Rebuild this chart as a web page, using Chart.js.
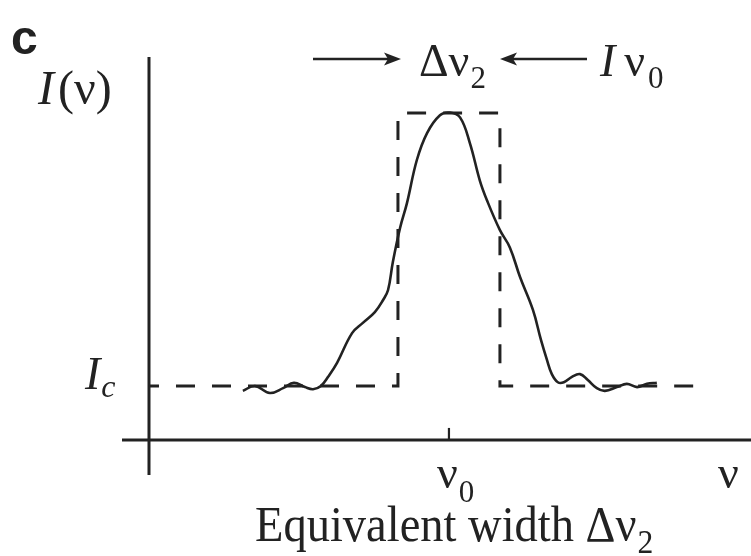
<!DOCTYPE html>
<html>
<head>
<meta charset="utf-8">
<script src="https://cdn.jsdelivr.net/npm/chart.js@4"></script>
<style>
  html, body { margin: 0; padding: 0; background: #fff; }
  #wrap { position: relative; width: 751px; height: 556px; }
</style>
</head>
<body>
<div id="wrap"><canvas id="profile"></canvas></div>
<script>
// Observed line profile I(nu), frequency measured from line centre nu0
const profileNu = [-6.87, -6.47, -5.97, -5.53, -5.17, -4.80, -4.53, -4.27, -4.03, -3.73,
  -3.23, -2.87, -2.47, -2.20, -2.03, -1.87, -1.63, -1.40, -1.07, -0.73,
  -0.30, 0.03, 0.37, 0.70, 1.03, 1.27, 1.70, 2.03, 2.37, 2.80,
  3.07, 3.27, 3.43, 3.63, 3.83, 4.10, 4.37, 4.63, 4.93, 5.20,
  5.60, 5.93, 6.27, 6.60, 6.93];
const profileI = [0.91, 1.00, 0.87, 0.96, 1.06, 0.98, 0.94, 1.00, 1.17, 1.43,
  1.98, 2.17, 2.37, 2.59, 2.78, 3.30, 3.93, 4.39, 5.19, 5.69,
  6.02, 6.07, 5.98, 5.50, 4.81, 4.44, 3.89, 3.57, 3.02, 2.41,
  1.85, 1.48, 1.22, 1.07, 1.07, 1.17, 1.22, 1.11, 0.96, 0.91,
  0.98, 1.04, 0.98, 1.04, 1.06];

// Equivalent rectangle: continuum Ic = 1, height I(nu0), width delta nu2
const rectNu = [-10, -1.7, -1.7, 1.7, 1.7, 8.2];
const rectI = [1, 1, 6.06, 6.06, 1, 1];

const nuMin = -10.9, nuMax = 10.07;
const iMin = -0.65, iMax = 7.1;
const yAxisNu = -10;
const ink = '#222';
const serif = '"Liberation Serif", "Times New Roman", serif';

const toPoints = (xs, ys) => xs.map((x, i) => ({ x, y: ys[i] }));

// text with an optional subscript; returns the end x
function sub(ctx, text, subText, x, y, size, opts = {}) {
  ctx.font = `${opts.italic ? 'italic ' : ''}${size}px ${serif}`;
  ctx.fillText(text, x, y);
  let end = x + ctx.measureText(text).width;
  if (subText) {
    ctx.font = `${opts.subItalic ? 'italic ' : ''}${Math.round(size * 0.68)}px ${serif}`;
    ctx.fillText(subText, end + (opts.gap || 1), y + (opts.drop || 12));
    end += (opts.gap || 1) + ctx.measureText(subText).width;
  }
  return end;
}

function arrow(ctx, x0, x1, y) {
  const dir = Math.sign(x1 - x0);
  ctx.beginPath();
  ctx.moveTo(x0, y);
  ctx.lineTo(x1 - dir * 10, y);
  ctx.lineWidth = 2.6;
  ctx.stroke();
  ctx.beginPath();
  ctx.moveTo(x1, y);
  ctx.lineTo(x1 - dir * 17, y - 6.5);
  ctx.lineTo(x1 - dir * 13, y);
  ctx.lineTo(x1 - dir * 17, y + 6.5);
  ctx.closePath();
  ctx.fill();
}

// Axes, tick and all labelling drawn from the scales
const diagram = {
  id: 'diagram',
  beforeDatasetsDraw(chart) {
    const { ctx, chartArea: a, scales: { x, y } } = chart;
    const x0 = x.getPixelForValue(yAxisNu);
    const y0 = y.getPixelForValue(0);
    const xc = x.getPixelForValue(0);
    ctx.save();
    ctx.strokeStyle = ink;
    ctx.lineWidth = 3;
    ctx.beginPath();
    ctx.moveTo(x0, a.top); ctx.lineTo(x0, a.bottom);
    ctx.moveTo(a.left, y0); ctx.lineTo(a.right, y0);
    ctx.stroke();
    ctx.lineWidth = 2.2;
    ctx.beginPath();
    ctx.moveTo(xc, y0); ctx.lineTo(xc, y0 - 12);
    ctx.stroke();
    ctx.restore();
  },
  afterDraw(chart) {
    const { ctx, scales: { x, y } } = chart;
    ctx.save();
    ctx.fillStyle = ink;
    ctx.strokeStyle = ink;
    ctx.textBaseline = 'alphabetic';

    ctx.font = 'bold 48px "Liberation Sans", Arial, sans-serif';
    ctx.fillText('c', 11, 54);

    // I(nu) on the vertical axis
    ctx.font = `italic 48px ${serif}`;
    ctx.fillText('I', 38, 104);
    const wI = ctx.measureText('I').width;
    ctx.font = `48px ${serif}`;
    ctx.fillText('(ν)', 38 + wI + 4, 104);

    // width marker row
    arrow(ctx, 313, 401, 59);
    sub(ctx, 'Δν', '2', 419, 76, 46, { drop: 12 });
    arrow(ctx, 587, 500, 59);
    ctx.font = `italic 46px ${serif}`;
    ctx.fillText('I', 600, 76);
    sub(ctx, 'ν', '0', 600 + ctx.measureText('I').width + 9, 76, 46, { drop: 12, gap: 3 });

    // continuum level
    const yc = y.getPixelForValue(1);
    ctx.font = `italic 46px ${serif}`;
    ctx.fillText('I', 85, yc + 3);
    const wIc = ctx.measureText('I').width;
    ctx.font = `italic 32px ${serif}`;
    ctx.fillText('c', 85 + wIc + 1, yc + 11);

    // frequency labels
    const xc = x.getPixelForValue(0);
    sub(ctx, 'ν', '0', xc - 12, 488, 46, { drop: 14 });
    sub(ctx, 'ν', null, 718, 488, 46);

    // axis caption, slightly condensed
    ctx.save();
    ctx.translate(255, 541);
    ctx.scale(0.93, 1);
    sub(ctx, 'Equivalent width Δν', '2', 0, 0, 50, { drop: 12 });
    ctx.restore();
    ctx.restore();
  }
};

new Chart(document.getElementById('profile'), {
  type: 'scatter',
  data: {
    datasets: [
      {
        label: 'I(ν)',
        data: toPoints(profileNu, profileI),
        showLine: true,
        borderColor: ink,
        borderWidth: 2.6,
        pointRadius: 0,
        tension: 0.4,
        fill: false
      },
      {
        label: 'equivalent rectangle',
        data: toPoints(rectNu, rectI),
        showLine: true,
        borderColor: ink,
        borderWidth: 3,
        borderDash: [19, 17],
        borderDashOffset: 9,
        pointRadius: 0,
        tension: 0,
        fill: false
      }
    ]
  },
  options: {
    responsive: true,
    maintainAspectRatio: false,
    animation: false,
    layout: { padding: { left: 122, right: 0, top: 57, bottom: 81 } },
    scales: {
      x: { type: 'linear', min: nuMin, max: nuMax, display: false },
      y: { type: 'linear', min: iMin, max: iMax, display: false }
    },
    plugins: {
      legend: { display: false },
      tooltip: { enabled: false }
    }
  },
  plugins: [diagram]
});
</script>
</body>
</html>
